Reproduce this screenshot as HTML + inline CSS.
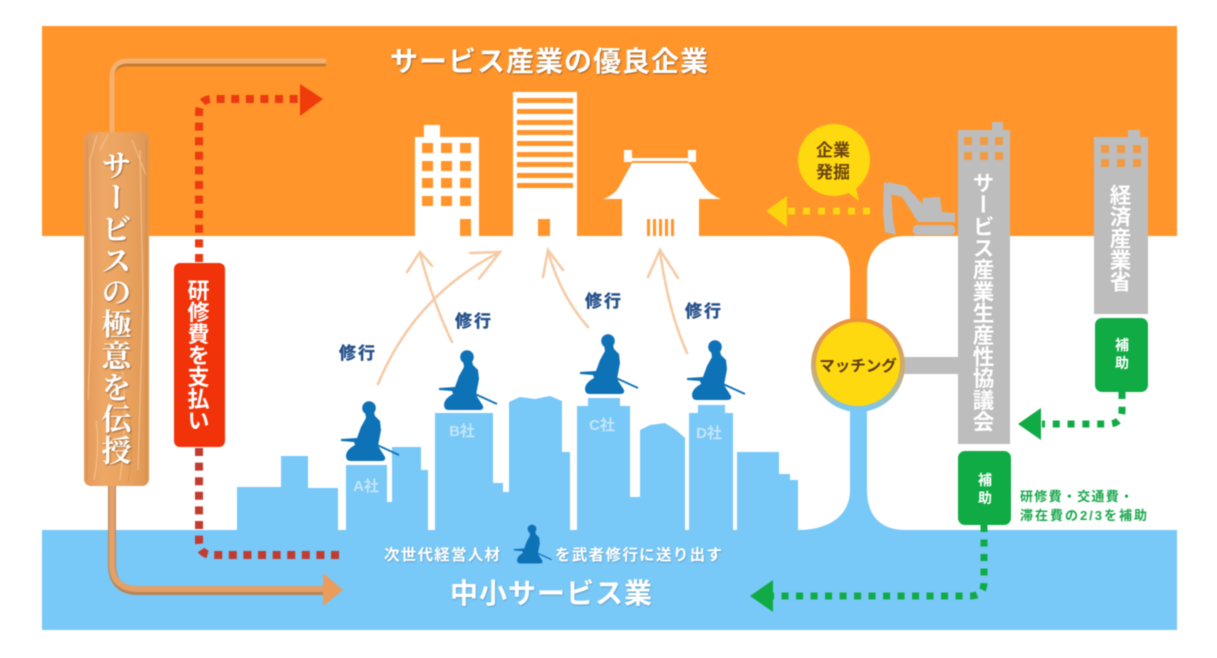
<!DOCTYPE html>
<html lang="ja">
<head>
<meta charset="utf-8">
<title>サービス産業の優良企業</title>
<style>
html,body{margin:0;padding:0;background:#fff;width:1217px;height:658px;overflow:hidden}
svg{display:block;filter:blur(.6px)}
text{font-family:"Liberation Sans","Noto Sans CJK JP",sans-serif}
.v{writing-mode:vertical-rl;text-orientation:upright}
.serif{font-family:"Liberation Serif","Noto Serif CJK SC",serif}
</style>
</head>
<body>
<svg width="1217" height="658" viewBox="0 0 1217 658" xmlns="http://www.w3.org/2000/svg">
<defs>
<linearGradient id="ring" x1="0" y1="0" x2="0" y2="1">
<stop offset="0" stop-color="#ee9238"/><stop offset=".6" stop-color="#c8ae78"/><stop offset="1" stop-color="#78c8f8"/>
</linearGradient>
<linearGradient id="wood" x1="0" y1="0" x2="1" y2="0">
<stop offset="0" stop-color="#e2995a"/><stop offset=".3" stop-color="#eea866"/><stop offset=".7" stop-color="#e9a15e"/><stop offset="1" stop-color="#dd9654"/>
</linearGradient>
<filter id="ts" x="-30%" y="-30%" width="160%" height="160%"><feDropShadow dx="0.8" dy="1" stdDeviation="0.9" flood-color="#7a4a20" flood-opacity=".75"/></filter>
<filter id="ts2" x="-30%" y="-30%" width="160%" height="160%"><feDropShadow dx="0.6" dy="1" stdDeviation="0.8" flood-color="#4a6a80" flood-opacity=".45"/></filter>
<g id="sam">
<path d="M8 37 L30 47" stroke="#0e72b6" stroke-width="1.8" fill="none"/>
<circle cx="0" cy="0" r="6.8" fill="#0e72b6"/>
<path d="M-4 4 L5 4 L6 8 L11 13 L12 22 L9 38 L16 49 Q17 53 12 53 L-18 53 Q-23 53 -23 48 Q-23 42 -14 37 L-15 34 L-28 33 L-28 31 L-12 30 L-8 19 L-3 10 Z" fill="#0e72b6"/>
</g>
</defs>

<rect width="1217" height="658" fill="#fff"/>
<rect x="42" y="26" width="1135" height="210" fill="#ff952b"/>
<rect x="42" y="530" width="1135" height="100" fill="#78c8f8"/>

<!-- junction stems -->
<path d="M815 236 C838 236 850 250 850 274 V330 H867 V274 C867 250 882 236 905 236 Z" fill="#ff952b"/>
<path d="M798 530 C830 530 850 515 850 490 V400 H867 V490 C867 515 880 530 905 530 Z" fill="#78c8f8"/>

<!-- skyline -->
<g fill="#78c8f8">
<path d="M237 531 V487 H281 V456 H308 V488 H338 V531 Z"/>
<path d="M346 531 V465 H387 V502 H392 V447 H421 V470 H428 V531 Z"/>
<path d="M435 531 V413 H493 V483 H503 V492 H509 V402 L520 397 L535 399 L550 396 L562 401 V452 L570 452 V531 Z"/>
<path d="M577 531 V406 H588 V398 H620 V406 H630 V497 H640 V430 L650 425 L665 423 L676 430 L685 438 V531 Z"/>
<path d="M689 531 V413 H698 V405 H725 V413 H733 V531 Z"/>
<path d="M737 531 V452 H779 V474 H790 V480 H798 V531 Z"/>
</g>
<g fill="#c4e6fb" font-size="15" font-weight="700" text-anchor="middle">
<text x="366" y="491">A社</text>
<text x="462" y="436">B社</text>
<text x="602" y="430">C社</text>
<text x="709" y="438">D社</text>
</g>

<!-- white buildings on orange -->
<g fill="#fff">
<rect x="415" y="137" width="64" height="100"/><rect x="424" y="125" width="16" height="14"/>
<rect x="513" y="92" width="64" height="145"/>
<rect x="622" y="190" width="77" height="47"/>
<path d="M603 199 Q615 195 620 185 L632 163 H689 L703 185 Q710 195 721 199 Z"/>
<rect x="624" y="150" width="8" height="12"/><rect x="688" y="150" width="8" height="12"/>
<rect x="630" y="158" width="60" height="3"/>
</g>
<g fill="#ff952b">
<rect x="422" y="143" width="11" height="10"/><rect x="441" y="143" width="11" height="10"/><rect x="460" y="143" width="11" height="10"/>
<rect x="422" y="161" width="11" height="10"/><rect x="441" y="161" width="11" height="10"/><rect x="460" y="161" width="11" height="10"/>
<rect x="422" y="178" width="11" height="10"/><rect x="441" y="178" width="11" height="10"/><rect x="460" y="178" width="11" height="10"/>
<rect x="422" y="196" width="11" height="10"/><rect x="441" y="196" width="11" height="10"/><rect x="460" y="196" width="11" height="10"/>
<rect x="460" y="219" width="11" height="17"/>
<rect x="517" y="98" width="56" height="5"/><rect x="517" y="109" width="56" height="5"/><rect x="517" y="120" width="56" height="5"/>
<rect x="517" y="130" width="56" height="5"/><rect x="517" y="141" width="56" height="5"/><rect x="517" y="152" width="56" height="5"/>
<rect x="517" y="162" width="56" height="5"/><rect x="517" y="173" width="56" height="5"/><rect x="517" y="183" width="56" height="5"/>
<rect x="538" y="219" width="12" height="17"/>
<rect x="647" y="219" width="3" height="17"/><rect x="653" y="219" width="3" height="17"/><rect x="659" y="219" width="3" height="17"/><rect x="665" y="219" width="3" height="17"/><rect x="671" y="219" width="3" height="17"/>
</g>

<!-- sketch arrows -->
<g fill="none" stroke="#f5cba6" stroke-width="2.6" stroke-linecap="round" stroke-dasharray="9 2">
<path d="M452 342 Q432 300 420 253"/><path d="M407 272 L420 252 L433 267"/>
<path d="M378 384 Q415 295 500 252"/><path d="M470 253 L500 252 L478 280"/>
<path d="M588 327 Q560 295 548 251"/><path d="M543 277 L548 250 L563 270"/>
<path d="M687 353 Q668 310 660 251"/><path d="M648 277 L660 250 L678 278"/>
</g>
<g class="serif" fill="#24508a" font-size="17" font-weight="700" text-anchor="middle" letter-spacing="2" stroke="#24508a" stroke-width=".4">
<text x="358" y="359">修行</text>
<text x="474" y="327">修行</text>
<text x="604" y="307">修行</text>
<text x="704" y="317">修行</text>
</g>

<!-- samurai -->
<use href="#sam" transform="translate(369 408)"/>
<use href="#sam" transform="translate(467 357)"/>
<use href="#sam" transform="translate(608 341)"/>
<use href="#sam" transform="translate(715 347)"/>
<use href="#sam" transform="translate(532 529) scale(.65)"/>

<!-- wood line -->
<path d="M112 134 V78 Q112 64 128 64 H326" fill="none" stroke="#c67b33" stroke-width="5"/>
<path d="M112 134 V77 Q112 61 128 61 H326" fill="none" stroke="#f6b06e" stroke-width="5"/>
<path d="M112 484 V564 Q112 591 138 591 H326" fill="none" stroke="#b98555" stroke-width="8"/>
<path d="M112 484 V564 Q112 589 138 589 H326" fill="none" stroke="#e3a068" stroke-width="6"/>
<path d="M323 573 L343 590 L323 606 Z" fill="#ea9c5c"/>

<!-- board -->
<rect x="84" y="132" width="65" height="354" rx="7" fill="url(#wood)"/>
<g fill="none" stroke="#f6c692" stroke-width="1.2" opacity=".8">
<path d="M97 135 L90 160 L92 300 L88 400"/><path d="M108 135 L100 150"/><path d="M132 140 L146 175"/><path d="M140 150 L143 300 L138 470"/><path d="M118 345 Q130 400 120 480"/><path d="M96 420 Q100 450 94 480"/>
</g>
<g fill="none" stroke="#cf8544" stroke-width="1" opacity=".55">
<path d="M146 140 L146 480"/><path d="M87 140 L87 480"/><path d="M126 400 Q136 440 128 482"/>
</g>
<text class="v serif" x="113" y="150" font-size="30" font-weight="700" fill="#fff" letter-spacing="1.7" filter="url(#ts)">サービスの極意を伝授</text>

<!-- red dotted arrows -->
<path d="M199 262 V113 Q199 99 213 99 H300" fill="none" stroke="#ee3a10" stroke-width="8" stroke-dasharray="8 6.6"/>
<path d="M300 84 L323 99 L300 116 Z" fill="#f03c0a"/>
<path d="M199 448 V541 Q199 555 213 555 H342" fill="none" stroke="#c23b30" stroke-width="8" stroke-dasharray="8 6.6"/>
<rect x="174" y="263" width="51" height="184" rx="6" fill="#f2330a"/>
<text class="v" x="197" y="279" font-size="22" font-weight="700" fill="#fff" letter-spacing="-.3">研修費を支払い</text>

<!-- excavator -->
<g fill="#bdbdbd">
<path d="M884 182 L891 185 L893 220 L896 235 L885 232 L883 212 Z"/>
<path d="M888 182 L906 186 L926 208 L926 222 L918 222 L902 197 L890 194 Z"/>
<path d="M923 198 L940 197 L942 212 L955 213 L955 222 L920 222 Z"/>
<rect x="913" y="225" width="42" height="10" rx="4"/>
</g>

<!-- bubble -->
<circle cx="834" cy="160" r="36" fill="#ffd90f"/>
<path d="M845 190 L859 201 L854 180 Z" fill="#ffd90f"/>
<g fill="#6b4410" font-size="17" font-weight="700" text-anchor="middle">
<text x="833" y="156">企業</text>
<text x="833" y="178">発掘</text>
</g>
<path d="M870 211 H788" fill="none" stroke="#fbd414" stroke-width="7" stroke-dasharray="7 8"/>
<path d="M787 196 L766 211 L787 227 Z" fill="#fbd40f"/>

<!-- matching -->
<rect x="900" y="357" width="60" height="17" fill="#bdbdbd"/>
<circle cx="858" cy="365" r="47" fill="url(#ring)"/>
<circle cx="858" cy="364" r="42" fill="#ffd90f"/>
<text x="858" y="371" font-size="15.5" font-weight="700" fill="#5d3c10" text-anchor="middle">マッチング</text>

<!-- gray buildings -->
<g fill="#bdbdbd">
<rect x="958" y="130" width="52" height="314"/><rect x="992" y="122" width="11" height="10"/>
<rect x="1094" y="137" width="54" height="177"/><rect x="1128" y="130" width="12" height="9"/>
</g>
<g fill="#f09a45">
<rect x="964" y="137" width="8" height="8"/><rect x="980" y="137" width="8" height="8"/><rect x="995" y="137" width="8" height="8"/>
<rect x="964" y="152" width="8" height="8"/><rect x="980" y="152" width="8" height="8"/><rect x="995" y="152" width="8" height="8"/>
<rect x="1101" y="145" width="8" height="8"/><rect x="1117" y="145" width="8" height="8"/><rect x="1133" y="145" width="8" height="8"/>
<rect x="1101" y="159" width="8" height="8"/><rect x="1117" y="159" width="8" height="8"/><rect x="1133" y="159" width="8" height="8"/>
</g>
<text class="v" x="982" y="172" font-size="21.5" font-weight="700" fill="#fff" letter-spacing=".2">サービス産業生産性協議会</text>
<text class="v" x="1119" y="184" font-size="21.5" font-weight="700" fill="#fff" letter-spacing=".2">経済産業省</text>

<!-- green -->
<path d="M1122 392 V410 Q1122 424 1108 424 H1042" fill="none" stroke="#10ab45" stroke-width="7" stroke-dasharray="7 7.8"/>
<path d="M1041 408 L1018 424 L1041 440 Z" fill="#10ab45"/>
<path d="M984 525 V582 Q984 596 970 596 H773" fill="none" stroke="#10ab45" stroke-width="7" stroke-dasharray="7 7.5"/>
<path d="M773 580 L750 596 L773 612 Z" fill="#10ab45"/>
<rect x="1095" y="318" width="53" height="74" rx="7" fill="#10ab45"/>
<rect x="958" y="451" width="53" height="74" rx="7" fill="#10ab45"/>
<g fill="#fff" font-size="14" font-weight="700" text-anchor="middle">
<text x="1122" y="350">補</text><text x="1122" y="368">助</text>
<text x="985" y="485">補</text><text x="985" y="503">助</text>
</g>
<g fill="#1aa84c" font-size="13" font-weight="700">
<text x="1020" y="501" textLength="113">研修費・交通費・</text>
<text x="1020" y="520" textLength="127">滞在費の2/3を補助</text>
</g>

<!-- titles -->
<text x="390" y="71" font-size="28" font-weight="700" fill="#fff" textLength="318" filter="url(#ts)">サービス産業の優良企業</text>
<text x="450" y="603" font-size="28" font-weight="700" fill="#fff" textLength="202" filter="url(#ts2)">中小サービス業</text>
<text x="384" y="560" font-size="15.5" font-weight="700" fill="#fff" textLength="116" filter="url(#ts2)">次世代経営人材</text>
<text x="555" y="560" font-size="15.5" font-weight="700" fill="#fff" textLength="167" filter="url(#ts2)">を武者修行に送り出す</text>
</svg>
</body>
</html>
